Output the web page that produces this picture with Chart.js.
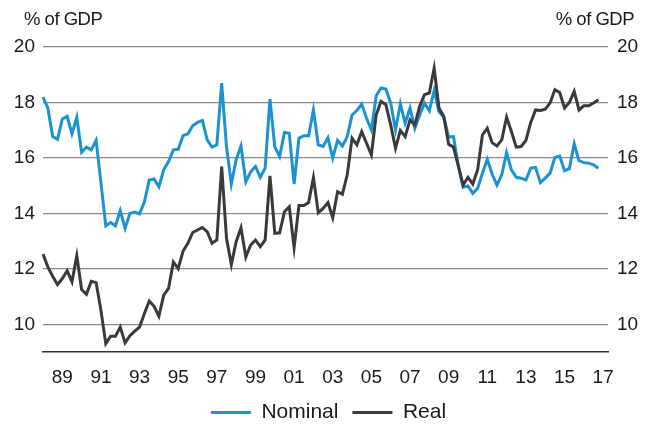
<!DOCTYPE html>
<html>
<head>
<meta charset="utf-8">
<title>Nominal and real, % of GDP</title>
<script src="https://cdn.jsdelivr.net/npm/chart.js@4.4.1/dist/chart.umd.min.js"></script>
<style>
  html, body { margin: 0; padding: 0; background: #fff; }
</style>
</head>
<body>
<canvas id="myChart" width="657" height="426"></canvas>
<script>
'use strict';

// ******* DATA *******

// quarterly, 1988 Q1 to 2016 Q4; axis runs on to 2017 Q2 so the "17" tick fits
let firstYear = 1988;
let quarterCount = 118;
let tickYears = [1989, 1991, 1993, 1995, 1997, 1999, 2001, 2003, 2005, 2007, 2009, 2011, 2013, 2015, 2017];
let yTicks = [10, 12, 14, 16, 18, 20];
let unitText = '% of GDP';

let nominal = [
  18.19, 17.8, 16.77, 16.67, 17.4, 17.5, 16.87, 17.46, 16.2, 16.39, 16.29, 16.63, 15.1, 13.55, 13.67, 13.55,
  14.1, 13.46, 14.0, 14.05, 13.98, 14.42, 15.2, 15.24, 14.96,
  15.57, 15.87, 16.29, 16.31, 16.8, 16.87, 17.16, 17.28, 17.35, 16.65, 16.39, 16.47, 18.7, 16.4, 15.06,
  15.93, 16.43, 15.14, 15.5, 15.69, 15.3, 15.63, 18.12, 16.4,
  16.05, 16.92, 16.89, 15.06, 16.71, 16.8, 16.8, 17.73, 16.47, 16.41, 16.73, 15.99, 16.63, 16.43, 16.77,
  17.55, 17.71, 17.94, 17.43, 17.01, 18.24, 18.52, 18.48,
  17.98, 17.01, 17.95, 17.25, 17.8, 17.07, 17.55, 17.98, 17.7, 18.43, 17.67, 17.47, 16.75, 16.77, 15.71,
  14.94, 14.99, 14.72, 14.9, 15.45, 15.95, 15.42, 15.02, 15.39,
  16.19, 15.57, 15.3, 15.27, 15.2, 15.63, 15.66, 15.11, 15.27, 15.45, 16.02, 16.07, 15.54, 15.61, 16.51,
  15.9, 15.83, 15.81, 15.75, 15.63
];

let real = [
  12.53, 12.07, 11.73, 11.43, 11.65, 11.93, 11.53, 12.47, 11.25, 11.08, 11.55, 11.5, 10.5, 9.3, 9.57, 9.57,
  9.9, 9.33, 9.59, 9.75, 9.9, 10.39, 10.84, 10.65, 10.29,
  11.05, 11.29, 12.25, 12.01, 12.64, 12.92, 13.31, 13.4, 13.49, 13.34, 12.92, 13.04, 15.69, 13.1, 12.15,
  12.98, 13.48, 12.43, 12.86, 13.04, 12.8, 13.04, 15.35, 13.28,
  13.3, 14.06, 14.24, 12.77, 14.28, 14.28, 14.39, 15.29, 14.02, 14.18, 14.39, 13.84, 14.78, 14.69, 15.39,
  16.71, 16.47, 16.95, 16.53, 16.11, 17.55, 18.04, 17.92,
  17.19, 16.35, 16.99, 16.77, 17.37, 17.19, 17.86, 18.28, 18.34, 19.24, 17.8, 17.49, 16.49, 16.39, 15.71,
  15.02, 15.3, 15.06, 15.57, 16.83, 17.07, 16.55, 16.43, 16.65,
  17.47, 16.95, 16.39, 16.41, 16.63, 17.28, 17.73, 17.71, 17.76, 17.98, 18.46, 18.36, 17.8, 18.0, 18.4,
  17.73, 17.88, 17.88, 17.98, 18.1
];


// ******* STYLE *******

let blue = '#1b93d1';
let dark = '#3a3a3a';
let textColor = '#1a1a1a';
let fontFamily = '"Liberation Sans", Arial, Helvetica, sans-serif';


// ******* HELPERS *******

let quarters = [];
for (let i = 0; i < quarterCount; i++) {
  let yr = firstYear + Math.floor(i / 4);
  quarters.push(yr + ' Q' + (i % 4 + 1));
}

function fixTicks(scale) {
  scale.ticks = yTicks.map(v => ({ value: v }));
}

function xTickLabel(value) {
  let label = this.getLabelForValue(value);
  let parts = label.split(' Q');
  let yr = Number(parts[0]);
  if (parts[1] === '1' && tickYears.includes(yr)) {
    return String(yr).slice(2);
  }
  return '';
}

// "% of GDP" above both value axes
let unitLabels = {
  id: 'unitLabels',
  afterDraw(chart) {
    let c = chart.ctx;
    c.save();
    c.font = '18.5px ' + fontFamily;
    if ('letterSpacing' in c) c.letterSpacing = '-0.5px';
    c.fillStyle = textColor;
    c.textBaseline = 'middle';
    c.textAlign = 'left';
    c.fillText(unitText, 24, 20);
    c.textAlign = 'right';
    c.fillText(unitText, 634, 20);
    c.restore();
  }
};


// ******* CHART *******

let ctx = document.getElementById('myChart').getContext('2d');
let myChart = new Chart(ctx, {
  type: 'line',
  data: {
    labels: quarters,
    datasets: [{
      label: 'Nominal',
      data: nominal,
      borderColor: blue,
      backgroundColor: blue,
      borderWidth: 3,
      pointRadius: 0,
      tension: 0,
      order: 1
    }, {
      label: 'Real',
      data: real,
      borderColor: dark,
      backgroundColor: dark,
      borderWidth: 3,
      pointRadius: 0,
      tension: 0,
      order: 0
    }]
  },
  options: {
    responsive: false,
    devicePixelRatio: 1,
    animation: false,
    layout: { padding: { top: 47, left: 0, right: 0, bottom: -7 } },
    scales: {
      x: {
        type: 'category',
        offset: false,
        grid: { display: false },
        border: { display: true, color: '#333333', width: 1.5 },
        ticks: {
          autoSkip: false,
          maxRotation: 0,
          padding: 6,
          color: textColor,
          font: { family: fontFamily, size: 19 },
          callback: xTickLabel
        },
        afterFit(scale) { scale.height = 36; }
      },
      y: {
        position: 'left',
        min: 9,
        max: 20,
        afterBuildTicks: fixTicks,
        grid: { color: '#8a8a8a', lineWidth: 1.2, drawTicks: false },
        border: { display: false },
        ticks: { padding: 8, color: textColor, font: { family: fontFamily, size: 19 } },
        afterFit(scale) { scale.width = 43; }
      },
      y1: {
        position: 'right',
        min: 9,
        max: 20,
        afterBuildTicks: fixTicks,
        grid: { display: false, drawTicks: false },
        border: { display: false },
        ticks: { padding: 9, color: textColor, font: { family: fontFamily, size: 19 } },
        afterFit(scale) { scale.width = 49; }
      }
    },
    plugins: {
      legend: {
        position: 'bottom',
        labels: {
          boxWidth: 40,
          boxHeight: 3,
          padding: 14,
          color: textColor,
          font: { family: fontFamily, size: 21 },
          sort: (a, b) => a.datasetIndex - b.datasetIndex,
          generateLabels(chart) {
            let items = Chart.defaults.plugins.legend.labels.generateLabels(chart);
            items.forEach(item => {
              item.lineWidth = 0;
              item.fillStyle = item.strokeStyle;
            });
            return items;
          }
        }
      },
      tooltip: { enabled: false }
    }
  },
  plugins: [unitLabels]
});
</script>
</body>
</html>
